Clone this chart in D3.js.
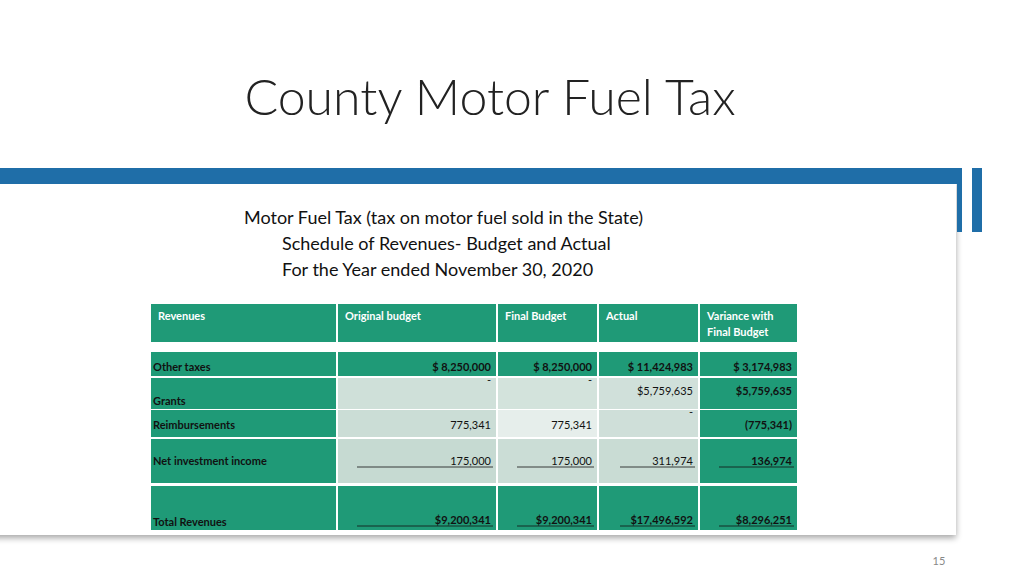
<!DOCTYPE html>
<html>
<head>
<meta charset="utf-8">
<script src="https://cdn.jsdelivr.net/npm/d3@7"></script>
<style>
  body { margin: 0; background: #fff; }
  svg { font-family: Lato, "Open Sans", sans-serif; }
</style>
</head>
<body>
<svg id="chart" width="1024" height="576"></svg>
<script>
// table content
const columns = ["Revenues", "Original budget", "Final Budget", "Actual", "Variance with|Final Budget"];
const rowLabels = ["Other taxes", "Grants", "Reimbursements", "Net investment income", "Total Revenues"];
const originalBudget = ["$    8,250,000", "-", "775,341", "175,000", "$9,200,341"];
const finalBudget = ["$    8,250,000", "-", "775,341", "175,000", "$9,200,341"];
const actual = ["$  11,424,983", "$5,759,635", "-", "311,974", "$17,496,592"];
const variance = ["$    3,174,983", "$5,759,635", "(775,341)", "136,974", "$8,296,251"];
const subtitle = ["Motor Fuel Tax (tax on motor fuel sold in the State)",
                  "Schedule of Revenues- Budget and Actual",
                  "For the Year ended November 30, 2020"];

const svg = d3.select("#chart");
const green = "#1f9a77";

// shadow panel
const defs = svg.append("defs");
const f = defs.append("filter").attr("id", "sh").attr("x", "-5%").attr("y", "-5%").attr("width", "110%").attr("height", "115%");
f.append("feGaussianBlur").attr("in", "SourceAlpha").attr("stdDeviation", 3);
f.append("feOffset").attr("dx", 0).attr("dy", 3).attr("result", "b");
f.append("feComponentTransfer").append("feFuncA").attr("type", "linear").attr("slope", 0.35);
const m = f.append("feMerge"); m.append("feMergeNode"); m.append("feMergeNode").attr("in", "SourceGraphic");

svg.append("rect").attr("x", -10).attr("y", 180).attr("width", 966).attr("height", 355)
  .attr("fill", "#fff").attr("filter", "url(#sh)");

// blue bars
svg.append("rect").attr("x", 0).attr("y", 168).attr("width", 957).attr("height", 16).attr("fill", "#1f6ea8");
svg.append("rect").attr("x", 957).attr("y", 168).attr("width", 5).attr("height", 64).attr("fill", "#1f6ea8");
svg.append("rect").attr("x", 972).attr("y", 168).attr("width", 10).attr("height", 64).attr("fill", "#1f6ea8");

svg.append("text").attr("x", 490).attr("y", 115).attr("text-anchor", "middle")
  .attr("font-size", 50).attr("font-weight", 300).attr("fill", "#222").text("County Motor Fuel Tax");

svg.selectAll("text.sub").data(subtitle).join("text").attr("class", "sub")
  .attr("x", (d, i) => i === 0 ? 244 : 282).attr("y", (d, i) => 224 + i * 26)
  .attr("font-size", 18).attr("fill", "#111").text(d => d);

svg.append("text").attr("x", 939).attr("y", 565).attr("text-anchor", "middle")
  .attr("font-size", 11).attr("fill", "#888").text("15");

// table geometry
const colEdges = [150, 337, 497, 598, 699, 798];
const rowTops = [352, 378, 410, 439, 486];
const rowBottoms = [376, 409, 437, 483, 530];
const cols = [originalBudget, finalBudget, actual, variance];
const fills = [
  [green, green, green, green],
  ["#cfe0d9", "#d3e3dc", "#d0e0da", green],
  ["#cbddd6", "#e6eeeb", "#cfdfd9", green],
  ["#c6dad2", "#cbddd6", "#c9dcd4", green],
  [green, green, green, green]
];

const head = svg.append("g");
columns.forEach((c, i) => {
  head.append("rect").attr("x", colEdges[i] + 1).attr("y", 304).attr("width", colEdges[i + 1] - colEdges[i] - 2)
    .attr("height", 38).attr("fill", green);
  c.split("|").forEach((t, j) => head.append("text").attr("x", colEdges[i] + 8).attr("y", 320 + j * 16)
    .attr("font-size", 11).attr("font-weight", 700).attr("fill", "#fff").text(t));
});

rowLabels.forEach((lab, r) => {
  const g = svg.append("g");
  const y0 = rowTops[r], y1 = rowBottoms[r];
  const ty = r === 1 || r === 4 ? y1 - 4 : (r === 3 ? y0 + 26 : y0 + 19);
  g.append("rect").attr("x", colEdges[0] + 1).attr("y", y0).attr("width", colEdges[1] - colEdges[0] - 2)
    .attr("height", y1 - y0).attr("fill", green);
  g.append("text").attr("x", 153).attr("y", ty).attr("font-size", 11).attr("font-weight", 700)
    .attr("fill", "#111").text(lab);
  cols.forEach((vals, c) => {
    const x0 = colEdges[c + 1], x1 = colEdges[c + 2];
    g.append("rect").attr("x", x0 + 1).attr("y", y0).attr("width", x1 - x0 - 2).attr("height", y1 - y0)
      .attr("fill", fills[r][c]);
    const v = vals[r];
    const isDash = v === "-";
    let vy = r === 1 ? y0 + 17 : ty;
    if (r === 4) vy = y1 - 6;
    if (isDash) vy = y0 + 6;
    const bold = r === 0 || r === 4 || (c === 3);
    const t = g.append("text").attr("x", x1 - 6).attr("y", vy).attr("text-anchor", "end")
      .attr("font-size", 11).attr("font-weight", bold ? 700 : 400).attr("fill", "#111").text(v);
    if (r === 3 || r === 4) {
      g.append("line").attr("x1", x0 + (c === 2 ? 22 : 20)).attr("x2", x1 - 4)
        .attr("y1", vy + 2).attr("y2", vy + 2).attr("stroke", "#111").attr("stroke-width", 0.8);
    }
  });
});
</script>
</body>
</html>
